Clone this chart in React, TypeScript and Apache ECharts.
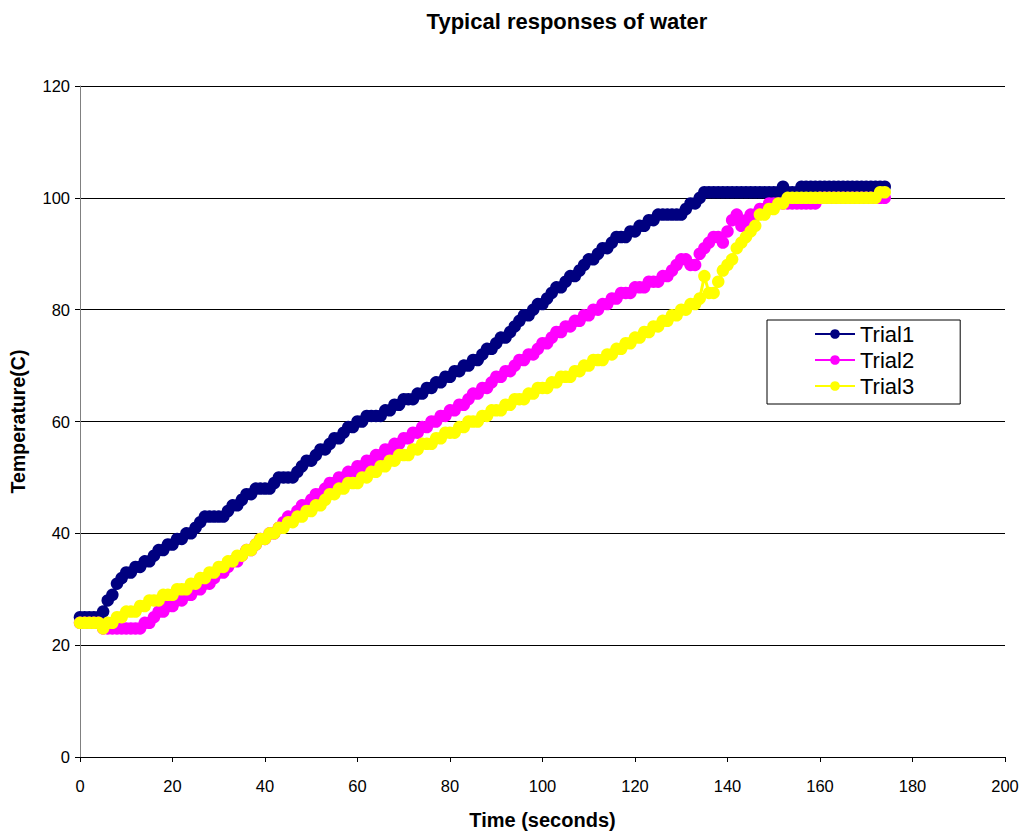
import React, { useEffect, useRef } from "react";
import * as echarts from "echarts";

// Sampling interval of the recordings (seconds); point i is taken at i * SAMPLE_INTERVAL_S
const SAMPLE_INTERVAL_S = 1;

const seriesNames = ["Trial1", "Trial2", "Trial3"];
const seriesColors = ["#000080", "#FF00FF", "#FFFF00"];

const trial1 = [
  25, 25, 25, 25, 25, 26, 28, 29, 31, 32,
  33, 33, 34, 34, 35, 35, 36, 37, 37, 38,
  38, 39, 39, 40, 40, 41, 42, 43, 43, 43,
  43, 43, 44, 45, 45, 46, 47, 47, 48, 48,
  48, 48, 49, 50, 50, 50, 50, 51, 52, 53,
  53, 54, 55, 55, 56, 57, 57, 58, 59, 59,
  60, 60, 61, 61, 61, 61, 62, 62, 63, 63,
  64, 64, 64, 65, 65, 66, 66, 67, 67, 68,
  68, 69, 69, 70, 70, 71, 71, 72, 73, 73,
  74, 75, 75, 76, 77, 78, 79, 79, 80, 81,
  81, 82, 83, 84, 84, 85, 86, 86, 87, 88,
  89, 89, 90, 91, 91, 92, 93, 93, 93, 94,
  94, 95, 95, 96, 96, 97, 97, 97, 97, 97,
  97, 98, 99, 99, 100, 101, 101, 101, 101, 101,
  101, 101, 101, 101, 101, 101, 101, 101, 101, 101,
  101, 101, 102, 101, 101, 101, 102, 102, 102, 102,
  102, 102, 102, 102, 102, 102, 102, 102, 102, 102,
  102, 102, 102, 102, 102,
];

const trial2 = [
  24, 24, 24, 24, 24, 23, 23, 23, 23, 23,
  23, 23, 23, 23, 24, 24, 25, 26, 26, 27,
  27, 28, 28, 29, 29, 30, 30, 31, 31, 32,
  33, 33, 34, 35, 35, 36, 37, 37, 38, 39,
  39, 40, 40, 41, 42, 43, 43, 44, 45, 45,
  46, 47, 47, 48, 49, 49, 50, 50, 51, 51,
  52, 52, 53, 53, 54, 54, 55, 55, 56, 56,
  57, 57, 58, 58, 59, 59, 60, 60, 61, 61,
  62, 62, 63, 63, 64, 65, 65, 66, 66, 67,
  68, 68, 69, 69, 70, 71, 71, 72, 72, 73,
  74, 74, 75, 76, 76, 77, 77, 78, 78, 79,
  79, 80, 80, 81, 81, 82, 82, 83, 83, 83,
  84, 84, 84, 85, 85, 85, 86, 86, 87, 88,
  89, 89, 88, 88, 90, 91, 92, 93, 93, 92,
  94, 96, 97, 95, 96, 97, 97, 98, 98, 99,
  99, 99, 99, 99, 99, 99, 99, 99, 99, 99,
  100, 100, 100, 100, 100, 100, 100, 100, 100, 100,
  100, 100, 100, 100, 100,
];

const trial3 = [
  24, 24, 24, 24, 24, 23, 24, 24, 25, 25,
  26, 26, 26, 27, 27, 28, 28, 28, 29, 29,
  29, 30, 30, 30, 31, 31, 32, 32, 33, 33,
  34, 34, 35, 35, 36, 36, 37, 37, 38, 39,
  39, 40, 40, 41, 41, 42, 42, 43, 43, 44,
  44, 45, 45, 46, 47, 47, 48, 48, 49, 49,
  49, 50, 50, 51, 51, 52, 52, 53, 53, 54,
  54, 54, 55, 55, 56, 56, 56, 57, 57, 58,
  58, 58, 59, 59, 60, 60, 60, 61, 61, 62,
  62, 62, 63, 63, 64, 64, 64, 65, 65, 66,
  66, 66, 67, 67, 68, 68, 68, 69, 69, 70,
  70, 71, 71, 71, 72, 72, 73, 73, 74, 74,
  75, 75, 76, 76, 77, 77, 78, 78, 79, 79,
  80, 80, 81, 81, 82, 86, 83, 83, 85, 87,
  88, 89, 91, 92, 93, 94, 95, 97, 97, 98,
  98, 99, 99, 100, 100, 100, 100, 100, 100, 100,
  100, 100, 100, 100, 100, 100, 100, 100, 100, 100,
  100, 100, 100, 101, 101,
];

const seriesValues = [trial1, trial2, trial3];

const xMin = 0;
const xMax = 200;
const xInterval = 20;
const yMin = 0;
const yMax = 120;
const yInterval = 20;

const titleText = "Typical responses of water";
const xAxisTitle = "Time (seconds)";
const yAxisTitle = "Temperature(C)";

const FONT = "'Liberation Sans', Arial, sans-serif";

export default function App() {
  const ref = useRef<HTMLDivElement>(null);

  useEffect(() => {
    if (!ref.current) return;
    const chart = echarts.init(ref.current, undefined, { renderer: "svg" });

    const series = seriesNames.map((name, si) => ({
      name,
      type: "line",
      data: seriesValues[si].map((v, i) => [i * SAMPLE_INTERVAL_S, v]),
      symbol: "circle",
      symbolSize: 12.5,
      showSymbol: true,
      clip: false,
      color: seriesColors[si],
      lineStyle: { color: seriesColors[si], width: 3 },
      itemStyle: { color: seriesColors[si], borderWidth: 0 },
      emphasis: { disabled: true },
    }));

    chart.setOption({
      animation: false,
      backgroundColor: "#ffffff",
      textStyle: { fontFamily: FONT },
      graphic: [
        {
          type: "text",
          x: 567,
          y: 21,
          style: {
            text: titleText,
            fill: "#000",
            font: `bold 22px ${FONT}`,
            textAlign: "center",
            textVerticalAlign: "middle",
          },
        },
      ],
      legend: {
        orient: "vertical",
        left: 767,
        top: 320,
        padding: [3, 46, 7, 47],
        itemWidth: 40,
        itemHeight: 12,
        itemGap: 4,
        borderColor: "#000",
        borderWidth: 1,
        backgroundColor: "#fff",
        textStyle: { fontFamily: FONT, fontSize: 22, color: "#000", padding: [0, 0, 0, 0] },
        data: seriesNames,
        selectedMode: false,
      },
      grid: { left: 80, right: 20, top: 86, bottom: 78, containLabel: false },
      xAxis: {
        type: "value",
        min: xMin,
        max: xMax,
        interval: xInterval,
        name: xAxisTitle,
        nameLocation: "middle",
        nameGap: 53,
        nameTextStyle: { fontFamily: FONT, fontWeight: "bold", fontSize: 20, color: "#000" },
        axisLine: { show: true, onZero: false, lineStyle: { color: "#000", width: 1 } },
        axisTick: { show: true, length: 5, lineStyle: { color: "#000" } },
        axisLabel: { margin: 20, fontFamily: FONT, fontSize: 16.5, color: "#000" },
        splitLine: { show: false },
      },
      yAxis: {
        type: "value",
        min: yMin,
        max: yMax,
        interval: yInterval,
        name: yAxisTitle,
        nameLocation: "middle",
        nameGap: 52,
        nameTextStyle: { fontFamily: FONT, fontWeight: "bold", fontSize: 19.5, color: "#000" },
        axisLine: { show: true, lineStyle: { color: "#808080", width: 1 } },
        axisTick: { show: true, length: 5, lineStyle: { color: "#000" } },
        axisLabel: { margin: 10, fontFamily: FONT, fontSize: 16.5, color: "#000" },
        splitLine: { show: true, lineStyle: { color: "#000", width: 1 } },
      },
      series,
    });

    return () => chart.dispose();
  }, []);

  return (
    <div
      ref={ref}
      style={{ position: "fixed", left: 0, top: 0, width: 1025, height: 835, background: "#fff" }}
    />
  );
}
